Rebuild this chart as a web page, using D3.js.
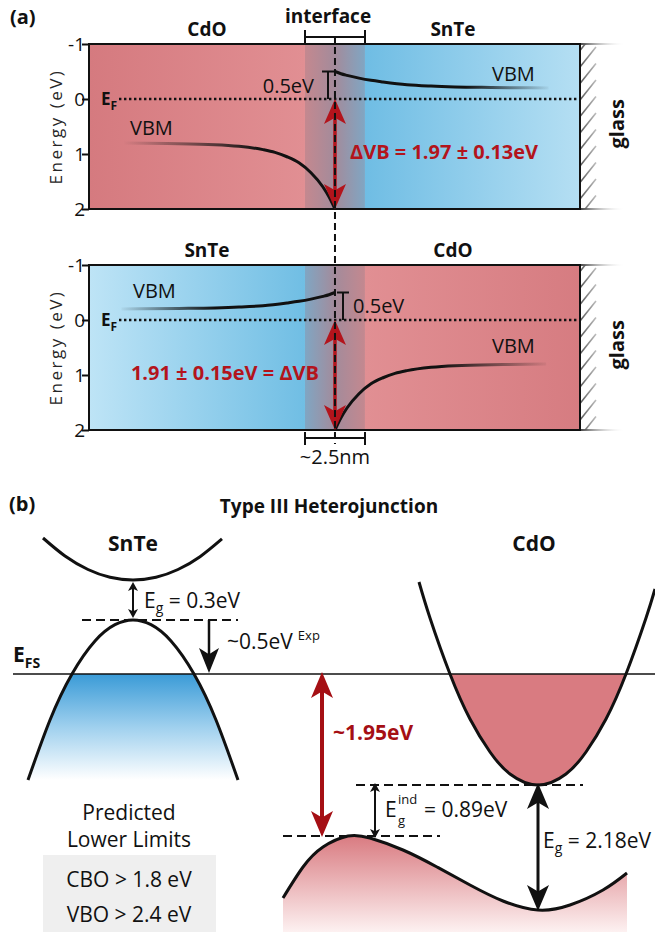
<!DOCTYPE html>
<html><head><meta charset="utf-8">
<script src="https://cdn.jsdelivr.net/npm/d3@7"></script>
<style>
html,body{margin:0;padding:0;background:#fff;}
svg{display:block;}
text{font-family:"Open Sans", Lato, sans-serif; fill:#111;}
</style></head><body><svg id="c" width="655" height="932"></svg>
<script>
// ---------------- DATA ----------------
const energyTicks = [-1, 0, 1, 2];
const tickLabels = ["-1", "0", "1", "2"];
const topLayers = ["CdO", "SnTe"];
const bottomLayers = ["SnTe", "CdO"];
const offsetLabels = ["ΔVB = 1.97 ± 0.13eV", "1.91 ± 0.15eV = ΔVB"];
const bendLabel = "0.5eV";
const bandBending = 0.5;          // eV
const interfaceHalf = 1.25;       // nm (total ~2.5nm)
const vbAtInterfaceCdO = 2.0;     // eV
// VBM profiles (distance from interface in nm, energy in eV)
const cdoDist = [0, 0.25, 0.5, 1, 1.5, 2, 2.5, 3, 4, 5, 7, 8.8];
const cdoE    = [2.00, 1.78, 1.60, 1.34, 1.16, 1.05, 0.97, 0.92, 0.86, 0.83, 0.81, 0.80];
const snteDist = [0, 0.25, 0.5, 1, 1.5, 2, 3, 4, 5, 6.5, 8.9];
const snteE    = [-0.50, -0.46, -0.43, -0.38, -0.34, -0.31, -0.26, -0.235, -0.22, -0.21, -0.20];

// Panel (b): schematic band structure (k in arb. units, E in arb. units, E_FS = 0)
const snteCBk = [0.43, 0.65, 0.88, 1.10, 1.33, 1.56, 1.78, 2.00, 2.22];
const snteCBE = [1.36, 1.18, 1.045, 0.967, 0.94, 0.967, 1.045, 1.173, 1.351];
const snteVBk = [0.28, 0.50, 0.72, 0.95, 1.15, 1.33, 1.51, 1.71, 1.94, 2.16, 2.38];
const snteVBE = [-1.06, -0.46, 0, 0.33, 0.493, 0.54, 0.493, 0.33, 0, -0.46, -1.06];
const cdoCBk = [4.19, 4.30, 4.50, 4.70, 4.90, 5.10, 5.38, 5.66, 5.86, 6.06, 6.26, 6.46, 6.55];
const cdoCBE = [0.92, 0.56, 0, -0.45, -0.78, -1.00, -1.11, -1.00, -0.78, -0.45, 0, 0.56, 0.85];
const cdoVBk = [2.83, 3.03, 3.23, 3.48, 3.70, 4.03, 4.37, 4.70, 5.03, 5.38, 5.70, 6.03, 6.27];
const cdoVBE = [-2.24, -1.93, -1.73, -1.62, -1.64, -1.76, -1.93, -2.11, -2.27, -2.36, -2.31, -2.16, -1.99];
const levels = {snteVBM: 0.54, snteCBM: 0.94, cdoCBM: -1.11, cdoVBMind: -1.62, cdoVBMdir: -2.36, efs: 0};
const bLabels = {title: "Type III Heterojunction", gap: "~1.95eV", snteEg: "= 0.3eV", exp: "~0.5eV",
  cdoEind: "= 0.89eV", cdoEg: "= 2.18eV", pred1: "Predicted", pred2: "Lower Limits",
  cbo: "CBO > 1.8 eV", vbo: "VBO > 2.4 eV"};

// ---------------- DRAW ----------------
const RED = "#b3141c";
const svg = d3.select("#c");
const defs = svg.append("defs");

function lin(id, x1, x2, stops, y1, y2) {
  const g = defs.append("linearGradient").attr("id", id).attr("gradientUnits", "userSpaceOnUse")
    .attr("x1", x1).attr("x2", x2).attr("y1", y1 === undefined ? 0 : y1).attr("y2", y2 === undefined ? 0 : y2);
  stops.forEach(s => g.append("stop").attr("offset", s[0]).attr("stop-color", s[1]).attr("stop-opacity", s[2] === undefined ? 1 : s[2]));
}

const xA = d3.scaleLinear().domain([-10.25, 10.21]).range([89, 580]);
const xL = xA(-interfaceHalf), xR = xA(interfaceHalf), x0 = xA(0);

function head(g, x, yTip, dir, len, hw, color) {
  const yb = yTip - dir * len;
  g.append("path").attr("d", `M${x},${yTip} L${x - hw},${yb} L${x},${yTip - dir * len * 0.75} L${x + hw},${yb} Z`).attr("fill", color);
}
function dblArrow(g, x, y1, y2, len, hw, color, w) {
  g.append("line").attr("x1", x).attr("x2", x).attr("y1", y1 + len * 0.6).attr("y2", y2 - len * 0.6)
    .attr("stroke", color).attr("stroke-width", w);
  head(g, x, y1, -1, len, hw, color);
  head(g, x, y2, 1, len, hw, color);
}

lin("redDark2Light", xA.range()[0], xL, [[0, "#d57a7f"], [1, "#e18f93"]]);
lin("redLight2Dark", xR, xA.range()[1], [[0, "#e18f93"], [1, "#d67c81"]]);
lin("blueDark2Light", xR, xA.range()[1], [[0, "#6fbde4"], [1, "#b5dff3"]]);
lin("blueLight2Dark", xA.range()[0], xL, [[0, "#bee4f6"], [1, "#70bee4"]]);
lin("intRB", xL, xR, [[0, "#c4888f"], [0.5, "#a38b9b"], [1, "#80a6c3"]]);
lin("intBR", xL, xR, [[0, "#80a6c3"], [0.5, "#a38b9b"], [1, "#c4888f"]]);
lin("hatchFade", 580, 606, [[0, "#fff"], [1, "#000"]]);
lin("edgeFade", 580, 625, [[0, "#444"], [1, "#fff", 0]]);

function panelA(top, layers, fills, cfg) {
  const yA = d3.scaleLinear().domain([-1, 2]).range([top, top + 165]);
  const g = svg.append("g");
  const [x1, x2] = xA.range();
  g.append("rect").attr("x", x1).attr("y", yA(-1)).attr("width", xL - x1).attr("height", yA(2) - yA(-1)).attr("fill", `url(#${fills[0]})`);
  g.append("rect").attr("x", xL).attr("y", yA(-1)).attr("width", xR - xL).attr("height", yA(2) - yA(-1)).attr("fill", `url(#${fills[1]})`);
  g.append("rect").attr("x", xR).attr("y", yA(-1)).attr("width", x2 - xR).attr("height", yA(2) - yA(-1)).attr("fill", `url(#${fills[2]})`);

  // glass hatch
  const mid = "m" + top;
  const mask = defs.append("mask").attr("id", mid);
  mask.append("rect").attr("x", x2).attr("y", yA(-1)).attr("width", 30).attr("height", 165).attr("fill", "url(#hatchFade)");
  const clip = defs.append("clipPath").attr("id", "cl" + top);
  clip.append("rect").attr("x", x2).attr("y", yA(-1)).attr("width", 30).attr("height", 165);
  const hg = g.append("g").attr("mask", `url(#${mid})`).attr("clip-path", `url(#cl${top})`);
  d3.range(yA(-1) - 10, yA(2) + 30, 16.5).forEach(y => {
    hg.append("line").attr("x1", x2).attr("y1", y).attr("x2", x2 + 16).attr("y2", y - 20).attr("stroke", "#555").attr("stroke-width", 1.6);
  });
  [yA(-1), yA(2)].forEach(y => g.append("line").attr("x1", x2).attr("x2", x2 + 45).attr("y1", y).attr("y2", y).attr("stroke", "url(#edgeFade)").attr("stroke-width", 2));
  g.append("text").attr("transform", `translate(616,${yA(0.45)}) rotate(-90)`).attr("text-anchor", "middle")
    .attr("dominant-baseline", "central").attr("font-weight", "bold").attr("font-size", 20).text("glass");

  // frame
  g.append("rect").attr("x", x1).attr("y", yA(-1)).attr("width", x2 - x1).attr("height", yA(2) - yA(-1))
    .attr("fill", "none").attr("stroke", "#111").attr("stroke-width", 2);

  // axis
  const ax = g.append("g").attr("transform", `translate(${x1},0)`)
    .call(d3.axisLeft(yA).tickValues(energyTicks).tickFormat((d, i) => tickLabels[i]).tickSize(-7).tickPadding(4));
  ax.select(".domain").remove();
  ax.selectAll("line").attr("stroke", "#111").attr("stroke-width", 2).attr("transform", "translate(-7,0)");
  ax.selectAll("text").attr("fill", "#111").attr("dy", "0.36em")
    .style("font-size", "19px").style("font-family", "'Open Sans', sans-serif");
  g.append("text").attr("transform", `translate(55,${yA(0.5)}) rotate(-90)`).attr("text-anchor", "middle")
    .attr("dominant-baseline", "central").attr("font-size", 17).attr("letter-spacing", 2.5).style("fill", "#262626").text("Energy (eV)");

  // E_F dotted
  g.append("line").attr("x1", 119).attr("x2", x2).attr("y1", yA(0)).attr("y2", yA(0))
    .attr("stroke", "#111").attr("stroke-width", 2.5).attr("stroke-dasharray", "2.4,2.6");
  const ef = g.append("text").attr("x", 101).attr("y", yA(0) + 6).attr("font-weight", "bold").attr("font-size", 17);
  ef.append("tspan").text("E");
  ef.append("tspan").attr("font-size", 12).attr("dy", 5).text("F");

  // labels on top
  [[207, layers[0]], [453, layers[1]]].forEach(([x, t]) => g.append("text").attr("x", x).attr("y", top - 8)
    .attr("text-anchor", "middle").attr("font-weight", "bold").attr("font-size", 19).text(t));

  // VBM curves
  cfg.curves.forEach(c => {
    const pts = c.dist.map((d, i) => [xA(c.sign * d), yA(c.E[i])]);
    const gid = "fade" + top + c.sign;
    lin(gid, c.fade[0], c.fade[1], [[0, "#111", 0], [1, "#111", 1]]);
    g.append("path").attr("d", d3.line().curve(d3.curveMonotoneX)(pts.sort((a, b) => a[0] - b[0])))
      .attr("fill", "none").attr("stroke", `url(#${gid})`).attr("stroke-width", 3);
    g.append("text").attr("x", c.lab[0]).attr("y", yA(c.lab[1])).attr("font-size", 20).text("VBM");
  });

  // bending bracket
  const bx = cfg.bx;
  g.append("line").attr("x1", bx).attr("x2", bx).attr("y1", yA(-bandBending)).attr("y2", yA(0)).attr("stroke", "#111").attr("stroke-width", 2);
  g.append("line").attr("x1", bx - 6).attr("x2", bx + 6).attr("y1", yA(-bandBending)).attr("y2", yA(-bandBending)).attr("stroke", "#111").attr("stroke-width", 2);
  g.append("text").attr("x", cfg.bl[0]).attr("y", yA(cfg.bl[1])).attr("text-anchor", cfg.bl[2]).attr("font-size", 20).text(bendLabel);

  // offset arrow
  dblArrow(g, x0, yA(0), yA(vbAtInterfaceCdO), 25, 11, RED, 3.5);
  g.append("text").attr("x", cfg.ol[0]).attr("y", yA(cfg.ol[1])).attr("text-anchor", cfg.ol[2])
    .attr("font-weight", "bold").attr("font-size", 20).style("fill", RED).text(cfg.olt);
  return yA;
}

panelA(44, topLayers, ["redDark2Light", "intRB", "blueDark2Light"], {
  curves: [
    {dist: cdoDist, E: cdoE, sign: -1, fade: [123, 260], lab: [130, 0.65]},
    {dist: snteDist, E: snteE, sign: 1, fade: [552, 465], lab: [492, -0.32]}
  ],
  bx: x0 - 7, bl: [314, -0.11, "end"], ol: [350, 1.09, "start"], olt: offsetLabels[0]
});
panelA(265, bottomLayers, ["blueLight2Dark", "intBR", "redLight2Dark"], {
  curves: [
    {dist: snteDist, E: snteE, sign: -1, fade: [118, 215], lab: [133, -0.4]},
    {dist: cdoDist, E: cdoE, sign: 1, fade: [552, 440], lab: [492, 0.6]}
  ],
  bx: x0 + 8, bl: [353, -0.13, "start"], ol: [319, 1.09, "end"], olt: offsetLabels[1]
});

// interface dashed line and brackets
svg.append("line").attr("x1", x0).attr("x2", x0).attr("y1", 36).attr("y2", 444)
  .attr("stroke", "#111").attr("stroke-width", 2).attr("stroke-dasharray", "7,4");
function bracket(y, y1, y2) {
  svg.append("line").attr("x1", xL).attr("x2", xR).attr("y1", y).attr("y2", y).attr("stroke", "#111").attr("stroke-width", 2);
  [xL, xR].forEach(x => svg.append("line").attr("x1", x).attr("x2", x).attr("y1", y1).attr("y2", y2).attr("stroke", "#111").attr("stroke-width", 2));
}
bracket(37, 30, 44);
bracket(438, 432, 445);
svg.append("text").attr("x", 328).attr("y", 23).attr("text-anchor", "middle").attr("font-weight", "bold").attr("font-size", 19).text("interface");
svg.append("text").attr("x", x0).attr("y", 464).attr("text-anchor", "middle").attr("font-size", 20).text("~" + (2 * interfaceHalf) + "nm");
svg.append("text").attr("x", 10).attr("y", 24).attr("font-weight", "bold").attr("font-size", 20).text("(a)");

// ---------------- PANEL (b) ----------------
const xB = d3.scaleLinear().domain([0, 6.55]).range([0, 655]);
const yB = d3.scaleLinear().domain([0, -1]).range([674, 774]);
const gb = svg.append("g");
const line = d3.line().curve(d3.curveNatural);
const P = (ks, Es) => ks.map((k, i) => [xB(k), yB(Es[i])]);

svg.append("text").attr("x", 9).attr("y", 511).attr("font-weight", "bold").attr("font-size", 20).text("(b)");
svg.append("text").attr("x", 329).attr("y", 513).attr("text-anchor", "middle").attr("font-weight", "bold").attr("font-size", 19).text(bLabels.title);
svg.append("text").attr("x", xB(1.33)).attr("y", 551).attr("text-anchor", "middle").attr("font-weight", "bold").attr("font-size", 21).text("SnTe");
svg.append("text").attr("x", xB(5.34)).attr("y", 551).attr("text-anchor", "middle").attr("font-weight", "bold").attr("font-size", 21).text("CdO");

// fills
defs.append("clipPath").attr("id", "belowEF").append("rect").attr("x", 0).attr("y", yB(0)).attr("width", 655).attr("height", 300);
lin("blueFill", 0, 0, [[0, "#3a9bd7"], [0.5, "#9fd0ee"], [1, "#fff"]], yB(0), yB(-1.06));
lin("redFill", 0, 0, [[0, "#d97b81"], [1, "#fdf1f1"]], yB(-1.62), 932);
gb.append("path").attr("d", line(P(snteVBk, snteVBE)) + "Z").attr("fill", "url(#blueFill)").attr("clip-path", "url(#belowEF)");
gb.append("path").attr("d", line(P(cdoCBk, cdoCBE)) + "Z").attr("fill", "#d97b81").attr("clip-path", "url(#belowEF)");
const vbPts = P(cdoVBk, cdoVBE);
gb.append("path").attr("d", line(vbPts) + `L${vbPts[vbPts.length - 1][0]},932 L${vbPts[0][0]},932 Z`).attr("fill", "url(#redFill)");

// E_FS line
gb.append("line").attr("x1", 13).attr("x2", 655).attr("y1", yB(0)).attr("y2", yB(0)).attr("stroke", "#111").attr("stroke-width", 1.3);
const efs = gb.append("text").attr("x", 13).attr("y", yB(0) - 12).attr("font-weight", "bold").attr("font-size", 21);
efs.append("tspan").text("E");
efs.append("tspan").attr("font-size", 14).attr("dy", 6).text("FS");

// bands
[[snteCBk, snteCBE], [snteVBk, snteVBE], [cdoCBk, cdoCBE], [cdoVBk, cdoVBE]].forEach(([k, E]) =>
  gb.append("path").attr("d", line(P(k, E))).attr("fill", "none").attr("stroke", "#111").attr("stroke-width", 3));

// dashed level lines
[[levels.snteVBM, 0.82, 2.38], [levels.cdoCBM, 3.56, 5.83], [levels.cdoVBMind, 2.83, 4.40]].forEach(([E, k1, k2]) =>
  gb.append("line").attr("x1", xB(k1)).attr("x2", xB(k2)).attr("y1", yB(E)).attr("y2", yB(E))
    .attr("stroke", "#111").attr("stroke-width", 2).attr("stroke-dasharray", "9,5"));

// arrows
dblArrow(gb, xB(1.33), yB(levels.snteCBM) + 2, yB(levels.snteVBM) - 2, 9, 5, "#111", 2);
gb.append("line").attr("x1", xB(2.09)).attr("x2", xB(2.09)).attr("y1", yB(levels.snteVBM)).attr("y2", yB(0) - 15).attr("stroke", "#111").attr("stroke-width", 2.5);
head(gb, xB(2.09), yB(0) - 1, 1, 25, 10, "#111");
dblArrow(gb, xB(3.22), yB(0) - 2, yB(levels.cdoVBMind) + 1, 26, 11, "#a50f14", 4);
dblArrow(gb, xB(3.75), yB(levels.cdoCBM) - 2, yB(levels.cdoVBMind) + 2, 9, 5, "#111", 2);
dblArrow(gb, xB(5.38), yB(levels.cdoCBM) - 2, yB(levels.cdoVBMdir) + 1, 26, 11, "#111", 3);

// band labels
function eLabel(x, y, sub, rest) {
  const t = gb.append("text").attr("x", x).attr("y", y).attr("font-size", 21);
  t.append("tspan").text("E");
  t.append("tspan").attr("font-size", 14).attr("dy", 5).text(sub);
  t.append("tspan").attr("dy", -5).text(" " + rest);
}
eLabel(144, 608, "g", bLabels.snteEg);
eLabel(543, 848, "g", bLabels.cdoEg);
// E_g^ind with stacked super/subscript as separate texts
gb.append("text").attr("x", 385).attr("y", 817).attr("font-size", 21).text("E");
gb.append("text").attr("x", 398).attr("y", 804).attr("font-size", 13).text("ind");
gb.append("text").attr("x", 398).attr("y", 825).attr("font-size", 13).text("g");
gb.append("text").attr("x", 424).attr("y", 817).attr("font-size", 21).text(bLabels.cdoEind);
const ex = gb.append("text").attr("x", 227).attr("y", 649).attr("font-size", 21);
ex.append("tspan").text(bLabels.exp);
ex.append("tspan").attr("font-size", 13).attr("dy", -9).attr("dx", 5).text("Exp");
gb.append("text").attr("x", 333).attr("y", 740).attr("font-weight", "bold").attr("font-size", 21).style("fill", "#a50f14").text(bLabels.gap);

// predicted box
gb.append("text").attr("x", 129).attr("y", 820).attr("text-anchor", "middle").attr("font-size", 21).text(bLabels.pred1);
gb.append("text").attr("x", 129).attr("y", 847).attr("text-anchor", "middle").attr("font-size", 21).text(bLabels.pred2);
gb.append("rect").attr("x", 43).attr("y", 855).attr("width", 173).attr("height", 77).attr("fill", "#efefef");
gb.append("text").attr("x", 129).attr("y", 887).attr("text-anchor", "middle").attr("font-size", 21).text(bLabels.cbo);
gb.append("text").attr("x", 129).attr("y", 922).attr("text-anchor", "middle").attr("font-size", 21).text(bLabels.vbo);
</script></body></html>
